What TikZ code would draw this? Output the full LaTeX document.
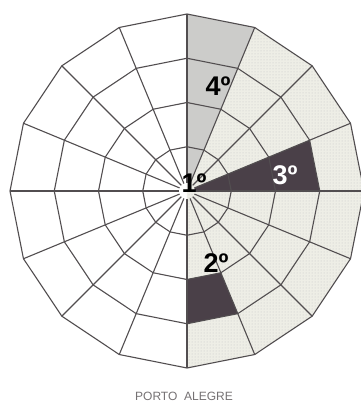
\documentclass[tikz,border=0pt]{standalone}
\usepackage{fontspec}
\setmainfont{Liberation Sans}
\usetikzlibrary{patterns}

\definecolor{gridline}{RGB}{82,78,80}
\definecolor{darkzone}{RGB}{74,64,72}
\definecolor{greyzone}{RGB}{204,204,202}
\definecolor{dotzone}{RGB}{238,238,230}

\begin{document}
\begin{tikzpicture}[
    x=1pt, y=1pt,
    ring/.style={draw=gridline, line width=1.1pt, line join=round},
    spoke/.style={draw=gridline, line width=1.1pt},
    dark/.style={fill=darkzone, draw=none},
    grey/.style={fill=greyzone, draw=none},
    dotted zone/.style={fill=dotzone, draw=none},
    rank/.style={font=\bfseries\fontsize{27}{27}\selectfont, inner sep=0pt},
    caption/.style={font=\fontsize{12}{12}\selectfont, text=gridline!80, inner sep=0pt}
]
\useasboundingbox[fill=white] (-187,-211) rectangle (173,191);

% ==================== Shaded sectors ====================
% dotted half: from 67.5 deg clockwise to 270 deg
\fill[dotted zone] (0,0) -- (-90:177) \foreach \a in {-67.5,-45,...,67.5} { -- (\a:177) } -- cycle;
\fill[pattern=dots, pattern color=gray!45] (0,0) -- (-90:177) \foreach \a in {-67.5,-45,...,67.5} { -- (\a:177) } -- cycle;
% grey sector (4o)
\fill[grey] (0,0) -- (67.5:177) -- (90:177) -- cycle;
% dark sectors (3o and 2o)
\fill[dark] (0:8) -- (0:132.75) -- (22.5:132.75) -- (22.5:8) -- cycle;
\fill[dark] (-90:88.5) -- (-90:132.75) -- (-67.5:132.75) -- (-67.5:88.5) -- cycle;

% ==================== Polar grid ====================
\foreach \r in {44.25,88.5,132.75,177} {
  \draw[ring] (0:\r) \foreach \a in {22.5,45,...,337.5} { -- (\a:\r) } -- cycle;
}
\foreach \a in {0,22.5,...,337.5} {
  \draw[spoke] (\a:8) -- (\a:177);
}

% ==================== Labels ====================
\node[rank]                 (first)  at (7,8)     {1º};
\node[rank]                 (second) at (29,-72)  {2º};
\node[rank, text=white]     (third)  at (98,16)   {3º};
\node[rank]                 (fourth) at (31,105)  {4º};

\node[caption] (city) at (-3,-205) {PORTO\ \ ALEGRE};

\end{tikzpicture}
\end{document}
